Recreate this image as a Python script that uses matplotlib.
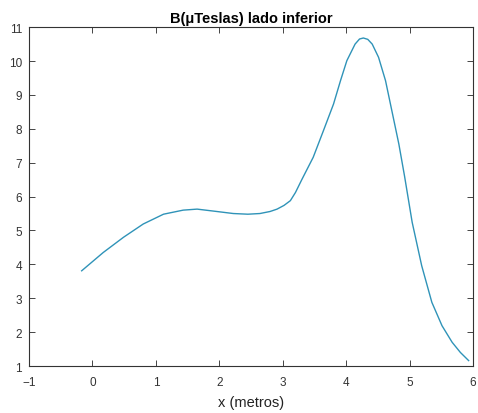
import matplotlib.pyplot as plt

x_m = [-0.17, 0.17, 0.49, 0.80, 1.12, 1.43, 1.65, 1.96, 2.22, 2.45, 2.64, 2.80, 2.91,
       3.02, 3.12, 3.20, 3.30, 3.48, 3.64, 3.80, 3.91, 4.01, 4.14, 4.21, 4.27,
       4.34, 4.41, 4.51, 4.62, 4.72, 4.83, 4.92, 5.04, 5.19, 5.35, 5.51, 5.67,
       5.80, 5.93]
b_ut = [3.81, 4.35, 4.80, 5.19, 5.48, 5.60, 5.63, 5.56, 5.50, 5.48, 5.50, 5.56, 5.63,
        5.74, 5.88, 6.12, 6.50, 7.16, 7.94, 8.73, 9.42, 10.01, 10.50, 10.65, 10.68,
        10.64, 10.50, 10.11, 9.42, 8.53, 7.55, 6.60, 5.24, 3.96, 2.88, 2.19, 1.70,
        1.40, 1.16]
xticks = [-1, 0, 1, 2, 3, 4, 5, 6]
yticks = [1, 2, 3, 4, 5, 6, 7, 8, 9, 10, 11]

plt.rcParams['font.family'] = ['Liberation Sans', 'DejaVu Sans']

fig = plt.figure(figsize=(4.78, 4.14), dpi=100)
ax = fig.add_axes([0.0607, 0.1135, 0.929, 0.8185])

ax.plot(x_m, b_ut, color='#2f93b8', linewidth=1.0)

ax.set_xlim(-1, 6)
ax.set_ylim(1, 11)
ax.set_xticks(xticks)
ax.set_yticks(yticks)
ax.tick_params(direction='in', top=True, right=True, length=4, width=0.7,
               labelsize=8.5, labelcolor='#333333', color='#444444')
ax.tick_params(axis='x', pad=7)
ax.tick_params(axis='y', pad=5)
for s in ax.spines.values():
    s.set_color('#333333')
    s.set_linewidth(0.8)

ax.set_title('B(μTeslas) lado inferior', fontsize=10.5, fontweight='bold', pad=4)
ax.set_xlabel('x (metros)', fontsize=10.5, color='#222222', labelpad=5)

fig.savefig('out.png', dpi=100)
